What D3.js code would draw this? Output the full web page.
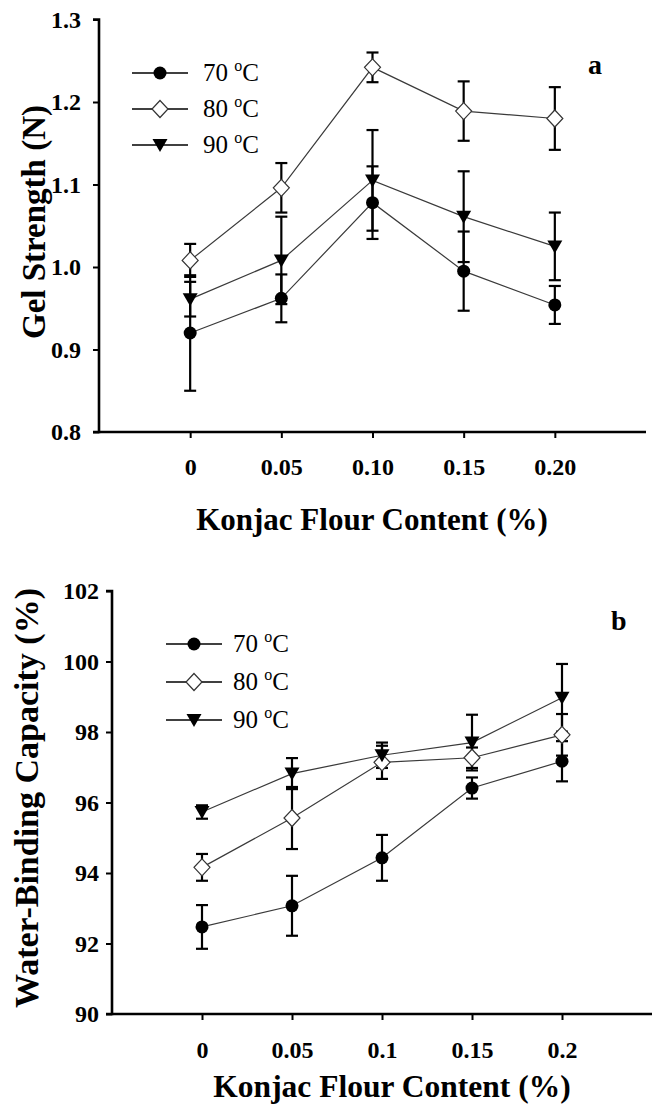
<!DOCTYPE html>
<html>
<head>
<meta charset="utf-8">
<script src="https://cdn.jsdelivr.net/npm/d3@7"></script>
<style>
  body { margin: 0; background: #fff; }
  svg { display: block; }
  svg text { font-family: "Liberation Serif", "Times New Roman", serif; }
</style>
</head>
<body>
<svg id="chart" width="658" height="1106"></svg>
<script>
// konjac flour content (%)
const konjac = [0, 0.05, 0.10, 0.15, 0.20]
const temps = ["70", "80", "90"]

// panel a: gel strength (N)
const gel70 = [0.920, 0.962, 1.078, 0.995, 0.954]
const gel70Err = [0.070, 0.029, 0.044, 0.048, 0.023]
const gel80 = [1.008, 1.096, 1.242, 1.189, 1.180]
const gel80Err = [0.020, 0.030, 0.018, 0.036, 0.038]
const gel90 = [0.961, 1.008, 1.105, 1.061, 1.025]
const gel90Err = [0.021, 0.053, 0.061, 0.055, 0.041]
const gelXTicks = ["0", "0.05", "0.10", "0.15", "0.20"]
const gelYTicks = [0.8, 0.9, 1.0, 1.1, 1.2, 1.3]

// panel b: water-binding capacity (%)
const wbc70 = [92.47, 93.07, 94.43, 96.41, 97.17]
const wbc70Err = [0.62, 0.85, 0.65, 0.30, 0.57]
const wbc80 = [94.16, 95.56, 97.14, 97.27, 97.92]
const wbc80Err = [0.38, 0.88, 0.47, 0.29, 0.59]
const wbc90 = [95.73, 96.82, 97.34, 97.70, 98.97]
const wbc90Err = [0.19, 0.44, 0.36, 0.79, 0.96]
const wbcXTicks = ["0", "0.05", "0.1", "0.15", "0.2"]
const wbcYTicks = [90, 92, 94, 96, 98, 100, 102]

const svg = d3.select("#chart")
const serif = "Liberation Serif, Times New Roman, serif"

function drawPanel(p){
    const g = svg.append("g").attr("font-family", serif)
    let x = d3.scaleLinear().domain([-0.05, 0.25]).range([p.left, p.right])
    let y = d3.scaleLinear().domain(p.yDomain).range([p.bottom, p.top])

    const series = [
        {t: temps[0], v: p.s70, e: p.e70, shape: "circle"},
        {t: temps[1], v: p.s80, e: p.e80, shape: "diamond"},
        {t: temps[2], v: p.s90, e: p.e90, shape: "triangle"}
    ]
    const line = d3.line().x((d, i) => x(konjac[i])).y(d => y(d))
    series.forEach(s => {
        g.append("path").attr("d", line(s.v))
            .attr("fill", "none").attr("stroke", "#3a3a3a").attr("stroke-width", 1.2)
    })
    // error bars
    series.forEach(s => {
        s.v.forEach((v, i) => {
            const cx = x(konjac[i])
            const y1 = y(v + s.e[i]), y0 = y(v - s.e[i])
            const eb = g.append("g").attr("stroke", "#000").attr("stroke-width", 2.2)
            eb.append("line").attr("x1", cx).attr("x2", cx).attr("y1", y1).attr("y2", y0)
            eb.append("line").attr("x1", cx - 6).attr("x2", cx + 6).attr("y1", y1).attr("y2", y1)
            eb.append("line").attr("x1", cx - 6).attr("x2", cx + 6).attr("y1", y0).attr("y2", y0)
        })
    })
    // markers
    series.forEach(s => {
        s.v.forEach((v, i) => marker(g, s.shape, x(konjac[i]), y(v)))
    })

    // axes
    const ya = g.append("g").attr("transform", `translate(${p.left},0)`)
        .call(d3.axisLeft(y).tickValues(p.yTicks).tickSize(6).tickPadding(p.yPad).tickFormat(p.yFmt))
    const xa = g.append("g").attr("transform", `translate(0,${p.bottom})`)
        .call(d3.axisBottom(x).tickValues(konjac).tickSize(6).tickPadding(p.xPad).tickFormat((d, i) => p.xTicks[i]))
    ;[ya, xa].forEach(a => {
        a.attr("font-family", serif)
        a.select(".domain").attr("stroke-width", 2.6).attr("stroke", "#000")
        a.selectAll(".tick line").attr("stroke-width", 2).attr("stroke", "#000")
        a.selectAll(".tick text").attr("font-size", 24).attr("font-weight", "bold").attr("fill", "#000")
    })
    ya.select(".domain").attr("d", `M-6,${p.bottom}H0V${p.top}H-6`)
    xa.select(".domain").attr("d", `M${p.left},0H${p.right}`)

    // titles
    g.append("text").attr("x", p.xTitleX).attr("y", p.xTitleY)
        .attr("text-anchor", "middle").attr("font-size", p.xTitleSize).attr("font-weight", "bold")
        .text("Konjac Flour Content (%)")
    g.append("text")
        .attr("transform", `translate(${p.yTitleX},${p.yTitleCY}) rotate(-90)`)
        .attr("text-anchor", "middle").attr("font-size", p.yTitleSize).attr("font-weight", "bold")
        .text(p.yTitle)
    g.append("text").attr("x", p.tagX).attr("y", p.tagY)
        .attr("font-size", 28).attr("font-weight", "bold").text(p.tag)

    // legend
    series.forEach((s, i) => {
        const ly = p.legY + i * p.legGap
        g.append("line").attr("x1", p.legX).attr("x2", p.legX + 56).attr("y1", ly).attr("y2", ly)
            .attr("stroke", "#000").attr("stroke-width", 1.6)
        marker(g, s.shape, p.legX + 28, ly)
        const t = g.append("text").attr("x", p.legX + p.legTextDx).attr("y", ly + 8).attr("font-size", 25)
        t.append("tspan").text(s.t + " ")
        t.append("tspan").attr("font-size", 16).attr("dy", -10).text("o")
        t.append("tspan").attr("dy", 10).text("C")
    })
}

function marker(g, shape, cx, cy){
    if(shape === "circle"){
        g.append("circle").attr("cx", cx).attr("cy", cy).attr("r", 6.5).attr("fill", "#000")
    } else if(shape === "diamond"){
        g.append("path").attr("d", `M${cx},${cy - 8.5}L${cx + 8},${cy}L${cx},${cy + 8.5}L${cx - 8},${cy}Z`)
            .attr("fill", "#fff").attr("stroke", "#333").attr("stroke-width", 1.2)
    } else {
        g.append("path").attr("d", `M${cx - 7.5},${cy - 6}L${cx + 7.5},${cy - 6}L${cx},${cy + 7}Z`)
            .attr("fill", "#000")
    }
}

drawPanel({
    left: 99, right: 646, top: 19.5, bottom: 432,
    yDomain: [0.8, 1.3], yTicks: gelYTicks, yFmt: d3.format(".1f"), xTicks: gelXTicks,
    yPad: 12, xPad: 20,
    s70: gel70, e70: gel70Err, s80: gel80, e80: gel80Err, s90: gel90, e90: gel90Err,
    xTitleX: 372, xTitleY: 530, xTitleSize: 31,
    yTitleX: 45, yTitleCY: 222, yTitle: "Gel Strength (N)", yTitleSize: 33,
    tag: "a", tagX: 588, tagY: 74,
    legX: 132, legY: 73, legGap: 36, legTextDx: 71
})
drawPanel({
    left: 112, right: 652, top: 591, bottom: 1014,
    yDomain: [90, 102], yTicks: wbcYTicks, yFmt: d => d, xTicks: wbcXTicks,
    yPad: 7, xPad: 21,
    s70: wbc70, e70: wbc70Err, s80: wbc80, e80: wbc80Err, s90: wbc90, e90: wbc90Err,
    xTitleX: 392, xTitleY: 1097, xTitleSize: 31.5,
    yTitleX: 38, yTitleCY: 798, yTitle: "Water-Binding Capacity (%)", yTitleSize: 34,
    tag: "b", tagX: 611, tagY: 630,
    legX: 166, legY: 644, legGap: 38, legTextDx: 67
})
</script>
</body>
</html>
